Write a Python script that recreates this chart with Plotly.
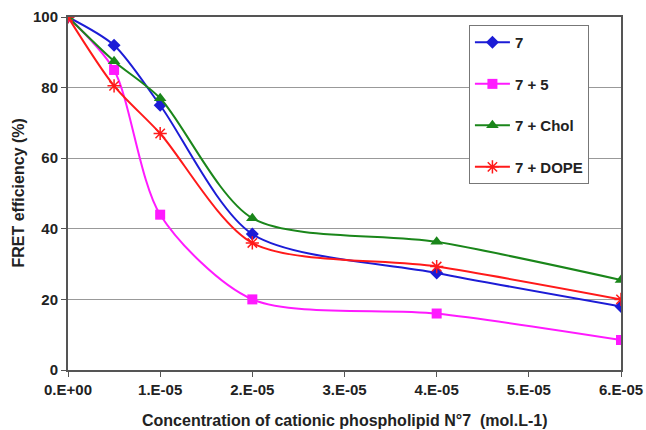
import plotly.graph_objects as go

conc = [0, 0.5e-5, 1e-5, 2e-5, 4e-5, 6e-5]
s7 = [100, 92, 75, 38.5, 27.5, 18]
s7_5 = [100, 85, 44, 20, 16, 8.5]
s7_chol = [100, 87.5, 77, 43, 36.3, 25.5]
s7_dope = [100, 80.5, 67, 36, 29.3, 20]

names = ["7", "7 + 5", "7 + Chol", "7 + DOPE"]
colors = ["#1c1cd6", "#ff1aff", "#1a861a", "#ff1a1a"]
symbols = ["diamond", "square", "triangle-up", "asterisk-open"]
sizes = [10, 10, 11, 11]
series = [s7, s7_5, s7_chol, s7_dope]

xtickvals = [0, 1e-5, 2e-5, 3e-5, 4e-5, 5e-5, 6e-5]
xticktext = ["0.E+00", "1.E-05", "2.E-05", "3.E-05", "4.E-05", "5.E-05", "6.E-05"]
ytickvals = [0, 20, 40, 60, 80, 100]
xtitle = "Concentration of cationic phospholipid N°7  (mol.L-1)"
ytitle = "FRET efficiency (%)"

fig = go.Figure()
for i, (n, c, sym, sz, ys) in enumerate(zip(names, colors, symbols, sizes, series)):
    marker = dict(symbol=sym, size=sz, color=c)
    if sym == "asterisk-open":
        marker["line"] = dict(color=c, width=1.5)
    fig.add_trace(go.Scatter(
        x=conc, y=ys, name=n, mode="lines+markers",
        line=dict(color=c, width=2, shape="spline", smoothing=0.8),
        marker=marker, legendgroup=f"g{i}",
    ))

font = "Liberation Sans, Arial, sans-serif"
fig.update_layout(
    width=646, height=430,
    margin=dict(l=68, r=25, t=17, b=60),
    paper_bgcolor="white", plot_bgcolor="white",
    font=dict(family=font, size=13, color="#222"),
    showlegend=True,
    legend=dict(
        x=0.725, y=0.977, xanchor="left", yanchor="top",
        bgcolor="white", bordercolor="#777", borderwidth=1,
        font=dict(family=font, size=15, color="#222", weight="bold"),
        tracegroupgap=19, traceorder="grouped", itemwidth=35,
    ),
    xaxis=dict(
        range=[0, 6e-5], tickvals=xtickvals, ticktext=xticktext,
        showgrid=False, zeroline=False, automargin=False,
        showline=True, linecolor="#555", linewidth=2, mirror=True,
        ticks="outside", ticklen=5, tickcolor="#555",
        tickfont=dict(family=font, size=15, weight="bold"),
    ),
    yaxis=dict(
        range=[0, 100], tickvals=ytickvals,
        showgrid=True, gridcolor="#999", gridwidth=1, zeroline=False,
        automargin=False,
        showline=True, linecolor="#555", linewidth=2, mirror=True,
        ticks="outside", ticklen=5, tickcolor="#555",
        tickfont=dict(family=font, size=15, weight="bold"),
    ),
    annotations=[
        dict(text=xtitle, xref="paper", yref="paper", x=0.5, y=0,
             yshift=-50, xanchor="center", yanchor="middle", showarrow=False,
             font=dict(family=font, size=16, weight="bold", color="#222")),
        dict(text=ytitle, xref="paper", yref="paper", x=0, y=0.5,
             xshift=-50, xanchor="center", yanchor="middle", showarrow=False,
             textangle=-90,
             font=dict(family=font, size=16, weight="bold", color="#222")),
    ],
)
fig.write_html("out.html")
